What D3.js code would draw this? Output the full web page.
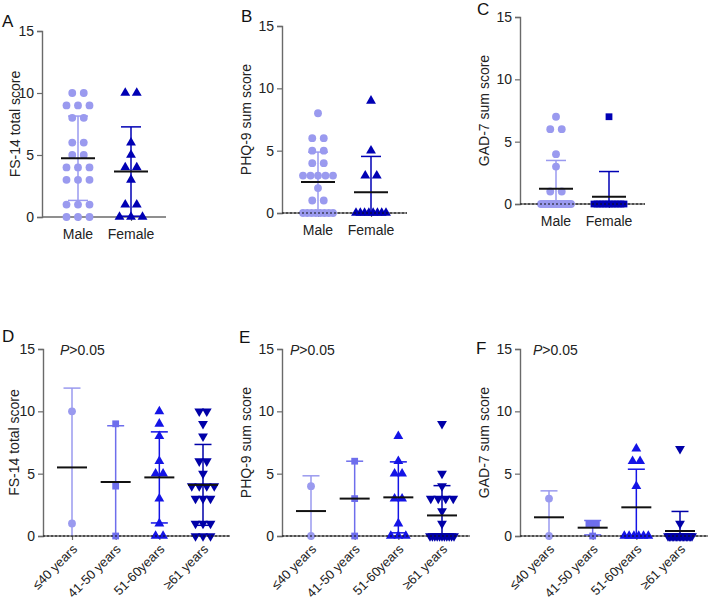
<!DOCTYPE html>
<html>
<head>
<meta charset="utf-8">
<script src="https://cdn.jsdelivr.net/npm/d3@7"></script>
<style>
  body { margin: 0; background: #fff; }
  svg { font-family: "Liberation Sans", Arial, sans-serif; }
</style>
</head>
<body>
<div id="chart"></div>
<script>
// categories
var sexCats = ["Male", "Female"];
var ageCats = ["\u226440 years", "41-50 years", "51-60years", "\u226561 years"];
var yTicks = [0, 5, 10, 15];

// FS-14 by sex
var fsMale = [10,10,9,9,9,8,8,6,6,5,5,4,4,4,3,3,3,1,1,1,0,0,0];
var fsFemale = [10,10,6,5,4,4,3,1,1,0,0,0];
// PHQ-9 by sex
var phqMale = [8,6,6,5,5,4,4,3,3,3,3,3,2,1,1,0,0,0,0,0,0,0,0];
var phqFemale = [9,5,3,3,0,0,0,0,0,0,0,0];
// GAD-7 by sex
var gadMale = [7,6,6,4,3,1,1,0,0,0,0,0,0,0,0,0,0,0,0,0,0,0,0];
var gadFemale = [7,0,0,0,0,0,0,0,0,0,0,0];

// FS-14 by age
var fsAge = [
  [10,1],
  [9,4,0],
  [10,9,8,6,5,5,3,1,0,0],
  [10,10,9,8,6,6,5,4,4,4,4,3,3,3,1,1,1,0,0,0]
];
// PHQ-9 by age
var phqAge = [
  [4,0],
  [6,3,0],
  [8,6,5,5,3,3,1,0,0,0],
  [9,5,4,3,3,3,3,2,1,0,0,0,0,0,0,0,0,0,0,0]
];
// GAD-7 by age
var gadAge = [
  [3,0],
  [1,1,0],
  [7,6,6,4,0,0,0,0,0,0],
  [7,1,0,0,0,0,0,0,0,0,0,0,0,0,0,0,0,0,0,0]
];

var cLight = "#9a9aef", cMid = "#6e6eec", cBright = "#1414e6", cNavy = "#0000a8", cDark = "#0000b4";

var sexStyle = [
  {color: cLight, shape: "circle"},
  {color: cDark, shape: "triangle"}
];
var sexStyleC = [
  {color: cLight, shape: "circle"},
  {color: cDark, shape: "square"}
];
var ageStyle = [
  {color: cLight, shape: "circle"},
  {color: cMid, shape: "square"},
  {color: cBright, shape: "triangle"},
  {color: cNavy, shape: "down"}
];

var panels = [
  {letter: "A", lx: 2, ly: 27, ylab: "FS-14 total score", labx: 15, ax: 42, y0: 217, y15: 31, len: 124,
   cats: sexCats, data: [fsMale, fsFemale], style: sexStyle, top: true, dotted: false},
  {letter: "B", lx: 241, ly: 22, ylab: "PHQ-9 sum score", labx: 246, ax: 282, y0: 213, y15: 26, len: 125,
   cats: sexCats, data: [phqMale, phqFemale], style: sexStyle, top: true, dotted: true},
  {letter: "C", lx: 477, ly: 15, ylab: "GAD-7 sum score", labx: 484, ax: 520, y0: 204, y15: 17, len: 125,
   cats: sexCats, data: [gadMale, gadFemale], style: sexStyleC, top: true, dotted: true},
  {letter: "D", lx: 2, ly: 342, ylab: "FS-14 total score", labx: 14, ax: 43, y0: 536, y15: 349, len: 187,
   cats: ageCats, data: fsAge, style: ageStyle, top: false, dotted: true, px: 60},
  {letter: "E", lx: 239, ly: 343, ylab: "PHQ-9 sum score", labx: 246, ax: 282, y0: 536, y15: 349, len: 188,
   cats: ageCats, data: phqAge, style: ageStyle, top: false, dotted: true, px: 290},
  {letter: "F", lx: 476, ly: 354, ylab: "GAD-7 sum score", labx: 484, ax: 520, y0: 536, y15: 349, len: 188,
   cats: ageCats, data: gadAge, style: ageStyle, top: false, dotted: true, px: 533}
];

var svg = d3.select("#chart").append("svg")
  .attr("width", 709)
  .attr("height", 603);

function symbolPath(shape) {
  if (shape == "circle") return d3.symbol().type(d3.symbolCircle).size(48)();
  if (shape == "square") return d3.symbol().type(d3.symbolSquare).size(46)();
  return d3.symbol().type(d3.symbolTriangle).size(42)();
}

panels.forEach(function(p) {
  var g = svg.append("g");

  var y = d3.scaleLinear().domain([0, 15]).range([p.y0, p.y15]);
  var x = d3.scalePoint().domain(p.cats)
    .range(p.top ? [p.ax + 36, p.ax + 89] : [p.ax + 29, p.ax + 160]);

  // panel letter
  g.append("text").attr("x", p.lx).attr("y", p.ly)
    .style("font-size", "17px").attr("fill", "#111").text(p.letter);

  // y axis
  var yAxis = d3.axisLeft(y).tickValues(yTicks).tickSize(5).tickPadding(3);
  var ya = g.append("g").attr("transform", "translate(" + p.ax + ",0)").call(yAxis);
  ya.select(".domain").attr("stroke", "#6a6a6a").attr("stroke-width", 1.4);
  ya.selectAll(".tick line").attr("stroke", "#6a6a6a").attr("stroke-width", 1.2);
  ya.selectAll(".tick text").style("font-size", "14px").attr("fill", "#222")
    .style("font-family", "Liberation Sans, Arial, sans-serif");

  // x axis
  var xAxis = d3.axisBottom(x).tickSize(4).tickSizeOuter(0).tickFormat("");
  var xa = g.append("g").attr("transform", "translate(0," + p.y0 + ")").call(xAxis);
  xa.select(".domain").attr("d", "M" + p.ax + ",0H" + (p.ax + p.len))
    .attr("stroke", "#6a6a6a").attr("stroke-width", 1.4);
  xa.selectAll(".tick line").attr("stroke", "#6a6a6a").attr("stroke-width", 1.2);

  if (p.top) {
    g.selectAll(".xl").data(p.cats).enter().append("text")
      .attr("x", function(d) { return x(d); })
      .attr("y", p.y0 + 22)
      .attr("text-anchor", "middle")
      .style("font-size", "14px").attr("fill", "#222")
      .text(function(d) { return d; });
  } else {
    g.selectAll(".xl").data(p.cats).enter().append("text")
      .attr("text-anchor", "end")
      .attr("transform", function(d) {
        return "translate(" + (x(d) + 6) + "," + (p.y0 + 14) + ") rotate(-45)";
      })
      .style("font-size", "13px").attr("fill", "#222")
      .text(function(d) { return d; });
  }

  // y label
  g.append("text")
    .attr("transform", "translate(" + p.labx + "," + ((p.y0 + p.y15) / 2) + ") rotate(-90)")
    .attr("text-anchor", "middle")
    .attr("dy", "0.35em")
    .style("font-size", "14px").attr("fill", "#222")
    .text(p.ylab);

  if (p.px) {
    var pt = g.append("text").attr("x", p.px).attr("y", p.y15 + 6)
      .style("font-size", "14px").attr("fill", "#222");
    pt.append("tspan").style("font-style", "italic").text("P");
    pt.append("tspan").text(">0.05");
  }

  var spacing = p.top ? 11.5 : 7.5;
  var maxSpan = p.top ? 30 : 24;

  p.data.forEach(function(vals, ci) {
    var cx = x(p.cats[ci]);
    var st = p.style[ci];

    // spread points sharing a value
    var groups = d3.group(vals, function(v) { return v; });
    var pts = [];
    groups.forEach(function(arr, v) {
      var k = arr.length;
      var s = k > 1 ? Math.min(spacing, maxSpan / (k - 1)) : 0;
      arr.forEach(function(a, i) {
        pts.push({v: v, dx: (i - (k - 1) / 2) * s});
      });
    });

    var path = symbolPath(st.shape);
    g.selectAll(null).data(pts).enter().append("path")
      .attr("d", path)
      .attr("fill", st.color)
      .attr("transform", function(d) {
        return "translate(" + (cx + d.dx) + "," + y(d.v) + ")" + (st.shape == "down" ? " rotate(180)" : "");
      });

    // mean and SD
    var m = d3.mean(vals);
    var sd = d3.deviation(vals);
    var capW = p.top ? 10 : 8.5;
    var meanW = p.top ? 17 : 15;
    var lo = Math.max(0, m - sd);
    g.append("line")
      .attr("x1", cx).attr("x2", cx)
      .attr("y1", y(lo)).attr("y2", y(m + sd))
      .attr("stroke", st.color).attr("stroke-width", 1.5);
    g.append("line")
      .attr("x1", cx - capW).attr("x2", cx + capW)
      .attr("y1", y(m + sd)).attr("y2", y(m + sd))
      .attr("stroke", st.color).attr("stroke-width", 1.5);
    if (m - sd > 0) {
      g.append("line")
        .attr("x1", cx - capW).attr("x2", cx + capW)
        .attr("y1", y(m - sd)).attr("y2", y(m - sd))
        .attr("stroke", st.color).attr("stroke-width", 1.5);
    }
    g.append("line")
      .attr("x1", cx - meanW).attr("x2", cx + meanW)
      .attr("y1", y(m)).attr("y2", y(m))
      .attr("stroke", "#111").attr("stroke-width", 2);
  });

  if (p.dotted) {
    g.append("line")
      .attr("x1", p.ax).attr("x2", p.ax + p.len)
      .attr("y1", y(0)).attr("y2", y(0))
      .attr("stroke", "#111").attr("stroke-width", 1.2)
      .attr("stroke-dasharray", "2,2");
  }
});
</script>
</body>
</html>
